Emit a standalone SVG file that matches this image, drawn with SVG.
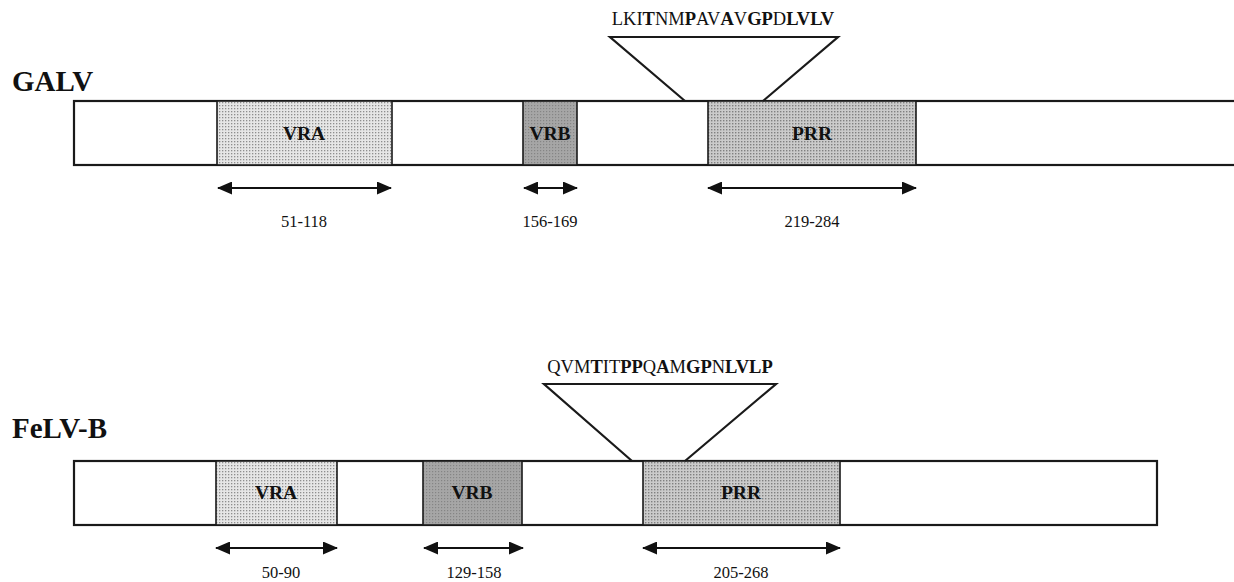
<svg xmlns="http://www.w3.org/2000/svg" width="1234" height="582" viewBox="0 0 1234 582">
<style>
.t{font-family:"Liberation Serif","Times New Roman",serif;fill:#111}
.name{font-size:29px;font-weight:bold}
.seq{font-size:18.5px}
.b{font-weight:bold}
.dom{font-size:19.5px;font-weight:bold;text-anchor:middle}
.num{font-size:16.5px;text-anchor:middle}
.bar{fill:#fff;stroke:#1a1a1a;stroke-width:2.2}
.box{stroke:#1a1a1a;stroke-width:1.6}
.tri{fill:none;stroke:#1a1a1a;stroke-width:2.2;stroke-linejoin:miter}
.arr{stroke:#111;stroke-width:2.2;fill:none;marker-start:url(#ah);marker-end:url(#ah)}
</style>
<defs>
<pattern id="pA" width="3" height="3" patternUnits="userSpaceOnUse"><rect width="3" height="3" fill="#e6e6e6"/><rect width="1.3" height="1.3" fill="#8e8e8e"/></pattern>
<pattern id="pB" width="3" height="3" patternUnits="userSpaceOnUse"><rect width="3" height="3" fill="#a6a6a6"/><rect width="1.2" height="1.2" fill="#858585"/></pattern>
<pattern id="pP" width="3" height="3" patternUnits="userSpaceOnUse"><rect width="3" height="3" fill="#cbcbcb"/><rect width="1.4" height="1.4" fill="#808080"/></pattern>
<marker id="ah" viewBox="0 0 15 13" refX="14" refY="6.5" markerWidth="15" markerHeight="13" markerUnits="userSpaceOnUse" orient="auto-start-reverse"><path d="M0,0 L15,6.5 L0,13 Z" fill="#111"/></marker>
</defs>

<g id="galv">
<text class="t name" x="12" y="91">GALV</text>
<rect class="bar" x="74" y="101" width="1170" height="64"/>
<g id="galv-vra"><rect class="box" x="217" y="101" width="175" height="64" fill="url(#pA)"/><text class="t dom" x="304" y="140">VRA</text></g>
<g id="galv-vrb"><rect class="box" x="523" y="101" width="54" height="64" fill="url(#pB)"/><text class="t dom" x="550" y="140">VRB</text></g>
<g id="galv-prr"><rect class="box" x="708" y="101" width="208" height="64" fill="url(#pP)"/><text class="t dom" x="812" y="140">PRR</text></g>
<g id="galv-insert"><polyline class="tri" points="685,101 610,37 838,37 763,101"/>
<text class="t seq" x="723" y="25" text-anchor="middle">LKI<tspan class="b">T</tspan>NM<tspan class="b">P</tspan>AV<tspan class="b">A</tspan>V<tspan class="b">GP</tspan>D<tspan class="b">LVLV</tspan></text></g>
</g>

<g id="felv">
<text class="t name" x="12" y="438">FeLV-B</text>
<rect class="bar" x="74" y="461" width="1083" height="64"/>
<g id="felv-vra"><rect class="box" x="216" y="461" width="121" height="64" fill="url(#pA)"/><text class="t dom" x="276" y="499">VRA</text></g>
<g id="felv-vrb"><rect class="box" x="423" y="461" width="99" height="64" fill="url(#pB)"/><text class="t dom" x="472" y="499">VRB</text></g>
<g id="felv-prr"><rect class="box" x="643" y="461" width="197" height="64" fill="url(#pP)"/><text class="t dom" x="741" y="499">PRR</text></g>
<g id="felv-insert"><polyline class="tri" points="632,461 544,384 776,384 685,461"/>
<text class="t seq" x="660" y="373" text-anchor="middle">QVM<tspan class="b">T</tspan>IT<tspan class="b">PP</tspan>Q<tspan class="b">A</tspan>M<tspan class="b">GP</tspan>N<tspan class="b">LVLP</tspan></text></g>
</g>

<g id="connectors">
<line class="arr" x1="218" y1="188" x2="391" y2="188"/>
<line class="arr" x1="524" y1="188" x2="577" y2="188"/>
<line class="arr" x1="708" y1="188" x2="916" y2="188"/>
<line class="arr" x1="216" y1="548" x2="337" y2="548"/>
<line class="arr" x1="424" y1="548" x2="523" y2="548"/>
<line class="arr" x1="643" y1="548" x2="840" y2="548"/>
</g>

<g id="labels">
<text class="t num" x="304" y="227">51-118</text>
<text class="t num" x="550" y="227">156-169</text>
<text class="t num" x="812" y="227">219-284</text>
<text class="t num" x="281" y="578">50-90</text>
<text class="t num" x="474" y="578">129-158</text>
<text class="t num" x="741" y="578">205-268</text>
</g>
</svg>
